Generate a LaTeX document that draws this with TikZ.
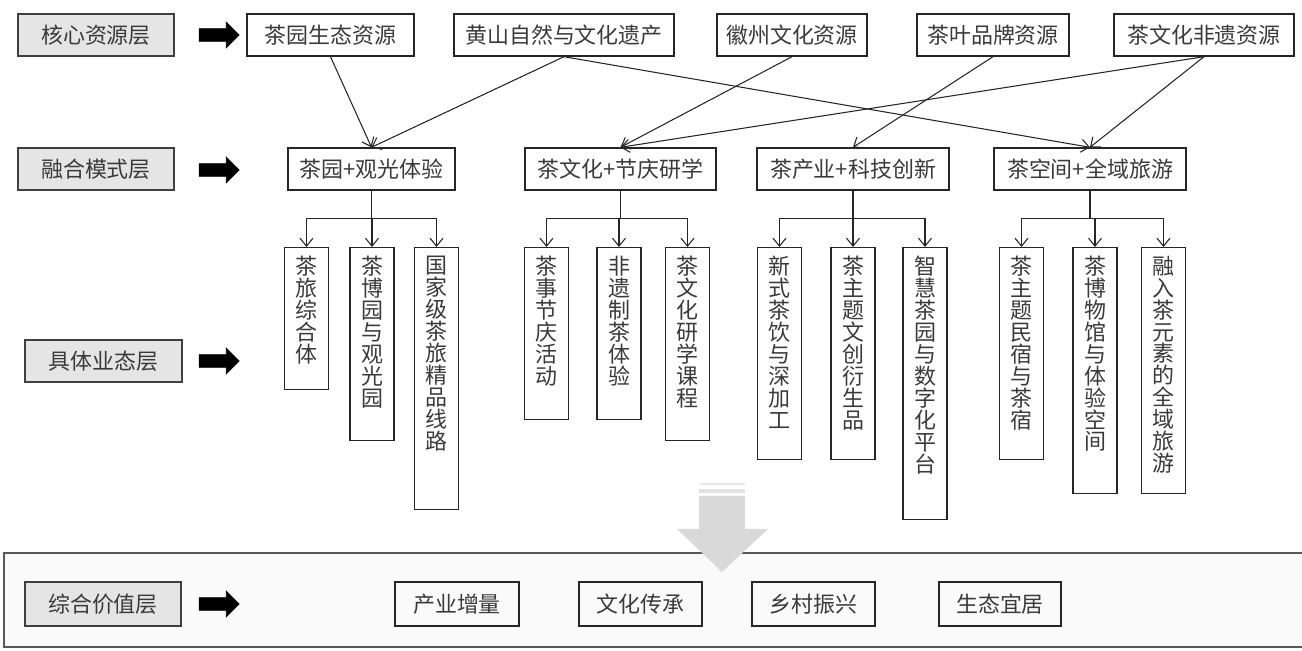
\documentclass[tikz,border=0pt]{standalone}
\usepackage{fontspec}
\setmainfont{Noto Sans CJK SC}
\usepackage{xcolor}
\usepackage{tikz}
\usetikzlibrary{arrows.meta,shapes.arrows}
\definecolor{layerGray}{HTML}{E5E5E5}
\definecolor{txtGray}{HTML}{3A3A3A}
\definecolor{arrGray}{HTML}{D9D9D9}
\definecolor{panelGray}{HTML}{FAFAFA}

\begin{document}
\begin{tikzpicture}[x=0.02cm,y=-0.02cm,
  font=\fontsize{12.5}{12.5}\selectfont, text=txtGray,
  box/.style={draw=black!85,line width=0.8pt,minimum height=0.84cm,inner sep=0pt},
  layer/.style={box,draw=black!75,fill=layerGray,minimum width=3.12cm},
  vbox/.style={draw=black!85,line width=0.8pt,minimum width=0.88cm,anchor=north,inner sep=0pt},
  vtxt/.style={anchor=north,align=center,inner sep=0pt,yshift=-0.17cm},
  blk/.style={single arrow,fill=black,draw=black,minimum height=0.8cm,
    single arrow head extend=0.13cm,inner xsep=0pt,inner ysep=0.12cm},
  link/.style={draw=black!85,line width=0.6pt,-{Straight Barb[length=1.6mm,width=2.6mm]}}]
\useasboundingbox (0,0) rectangle (1302,651);
% --- bottom panel ---
\draw[draw=black!65,fill=panelGray,line width=1.2pt] (4,553) rectangle (1312,647);
\fill[arrGray!60] (700,483.5) rectangle (745,485);
\fill[arrGray!75] (699,489.5) rectangle (745,493.5);
\fill[arrGray] (699,496) -- (745,496) -- (745,529) -- (768,529) -- (722,572)
  -- (677,529) -- (699,529) -- cycle;
% --- layers ---
\node[layer] (core) at (96,35) {核心资源层};
\node[layer] (fuse) at (96,169) {融合模式层};
\node[layer,minimum width=3.14cm] (form) at (103.5,361) {具体业态层};
\node[layer,minimum height=0.88cm] (val) at (103,604) {综合价值层};
\node[blk] (ar1) at (216,35) {};
\node[blk] (ar2) at (216,170) {};
\node[blk] (ar3) at (216,361) {};
\node[blk] (ar4) at (216,604) {};
% --- resources ---
\node[box,minimum width=3.34cm] (eco) at (330.5,35) {茶园生态资源};
\node[box,minimum width=4.4cm] (hs) at (564,35) {黄山自然与文化遗产};
\node[box,minimum width=3cm] (hz) at (792,35) {徽州文化资源};
\node[box,minimum width=3.04cm] (brand) at (993,35) {茶叶品牌资源};
\node[box,minimum width=3.6cm] (ich) at (1204,35) {茶文化非遗资源};
% --- modes ---
\node[box,minimum width=3.34cm] (tour) at (371.5,169) {茶园+观光体验};
\node[box,minimum width=3.82cm] (study) at (620.5,169) {茶文化+节庆研学};
\node[box,minimum width=3.84cm] (tech) at (853,169) {茶产业+科技创新};
\node[box,minimum width=3.84cm] (space) at (1090,169) {茶空间+全域旅游};
\draw[link] (eco.south) -- (tour.north);
\draw[link] (hs.south) -- (tour.north);
\draw[link] (hs.south) -- (space.north);
\draw[link] (hz.south) -- (study.north);
\draw[link] (brand.south) -- (tech.north);
\draw[link] (ich.south) -- (study.north);
\draw[link] (ich.south) -- (space.north);
% --- forms ---
\node[vbox,minimum height=2.84cm] (a1) at (306.5,247) {};
\node[vbox,minimum height=3.86cm] (a2) at (372,247) {};
\node[vbox,minimum height=5.24cm] (a3) at (436.5,247) {};
\node[vbox,minimum height=3.44cm] (b1) at (546.5,247) {};
\node[vbox,minimum height=3.44cm] (b2) at (619,247) {};
\node[vbox,minimum height=3.86cm] (b3) at (687.5,247) {};
\node[vbox,minimum height=4.24cm] (c1) at (779.5,247) {};
\node[vbox,minimum height=4.24cm] (c2) at (853,247) {};
\node[vbox,minimum height=5.44cm] (c3) at (925,247) {};
\node[vbox,minimum height=4.24cm] (d1) at (1021.5,247) {};
\node[vbox,minimum height=4.92cm] (d2) at (1095,247) {};
\node[vbox,minimum height=4.92cm] (d3) at (1163.5,247) {};
\node[vtxt] (a1t) at (a1.north) {茶\\旅\\综\\合\\体};
\node[vtxt] (a2t) at (a2.north) {茶\\博\\园\\与\\观\\光\\园};
\node[vtxt] (a3t) at (a3.north) {国\\家\\级\\茶\\旅\\精\\品\\线\\路};
\node[vtxt] (b1t) at (b1.north) {茶\\事\\节\\庆\\活\\动};
\node[vtxt] (b2t) at (b2.north) {非\\遗\\制\\茶\\体\\验};
\node[vtxt] (b3t) at (b3.north) {茶\\文\\化\\研\\学\\课\\程};
\node[vtxt] (c1t) at (c1.north) {新\\式\\茶\\饮\\与\\深\\加\\工};
\node[vtxt] (c2t) at (c2.north) {茶\\主\\题\\文\\创\\衍\\生\\品};
\node[vtxt] (c3t) at (c3.north) {智\\慧\\茶\\园\\与\\数\\字\\化\\平\\台};
\node[vtxt] (d1t) at (d1.north) {茶\\主\\题\\民\\宿\\与\\茶\\宿};
\node[vtxt] (d2t) at (d2.north) {茶\\博\\物\\馆\\与\\体\\验\\空\\间};
\node[vtxt] (d3t) at (d3.north) {融\\入\\茶\\元\\素\\的\\全\\域\\旅\\游};
\foreach \c in {a1,a2,a3} \draw[link] (tour.south) -- ++(0,28) -| (\c.north);
\foreach \c in {b1,b2,b3} \draw[link] (study.south) -- ++(0,28) -| (\c.north);
\foreach \c in {c1,c2,c3} \draw[link] (tech.south) -- ++(0,28) -| (\c.north);
\foreach \c in {d1,d2,d3} \draw[link] (space.south) -- ++(0,28) -| (\c.north);
% --- values ---
\node[box,minimum width=2.48cm,minimum height=0.88cm] (v1) at (457,604) {产业增量};
\node[box,minimum width=2.46cm,minimum height=0.88cm] (v2) at (640.5,604) {文化传承};
\node[box,minimum width=2.46cm,minimum height=0.88cm] (v3) at (813.5,604) {乡村振兴};
\node[box,minimum width=2.44cm,minimum height=0.88cm] (v4) at (1000,604) {生态宜居};
\end{tikzpicture}
\end{document}
